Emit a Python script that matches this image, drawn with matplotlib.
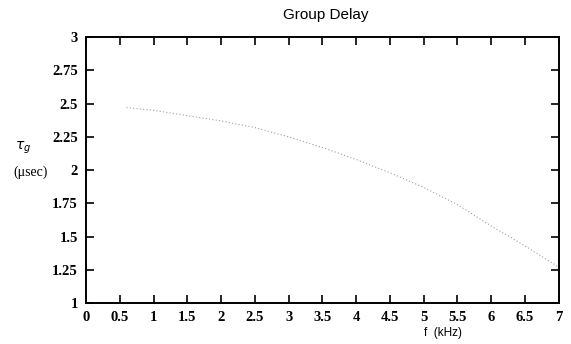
import numpy as np
import matplotlib.pyplot as plt

# group delay
freq = [0.6, 1.0, 1.5, 2.0, 2.5, 3.0, 3.5, 4.0, 4.5, 5.0, 5.5, 6.0, 6.5, 7.0]
delay = [2.47, 2.45, 2.41, 2.37, 2.32, 2.25, 2.17, 2.08, 1.98, 1.87, 1.74, 1.58, 1.43, 1.27]

xticks = np.arange(0, 7.01, 0.5)
yticks = np.arange(1, 3.01, 0.25)
xlabels = ['0', '0.5', '1', '1.5', '2', '2.5', '3', '3.5', '4', '4.5', '5', '5.5', '6', '6.5', '7']
ylabels = ['1', '1.25', '1.5', '1.75', '2', '2.25', '2.5', '2.75', '3']

fig = plt.figure(figsize=(5.71, 3.44), dpi=100)
ax = fig.add_axes([0.1506, 0.119, 0.828, 0.773])

ax.plot(freq, delay, color='#a0a0a0', linestyle=(0, (1, 2)), linewidth=0.8)

ax.set_xlim(0, 7)
ax.set_ylim(1, 3)
ax.set_xticks(xticks)
ax.set_xticklabels(xlabels, fontfamily='Liberation Serif', fontsize=10.5, fontweight='bold')
ax.set_yticks(yticks)
ax.set_yticklabels(ylabels, fontfamily='Liberation Serif', fontsize=10.5, fontweight='bold')
ax.tick_params(direction='in', length=6, width=1.2, top=True, right=True, pad=6, color='black')
for s in ax.spines.values():
    s.set_linewidth(1.4)

fig.text(0.571, 0.955, 'Group Delay', ha='center', va='center',
         fontfamily='Liberation Sans', fontsize=11)
fig.text(0.776, 0.032, 'f  (kHz)', ha='center', va='center',
         fontfamily='Liberation Sans', fontsize=8.5)
fig.text(0.04, 0.57, r'$\tau_g$', ha='center', va='center', fontsize=10)
fig.text(0.054, 0.5, '(μsec)', ha='center', va='center',
         fontfamily='Liberation Serif', fontsize=10)

fig.savefig('out.png', dpi=100)
